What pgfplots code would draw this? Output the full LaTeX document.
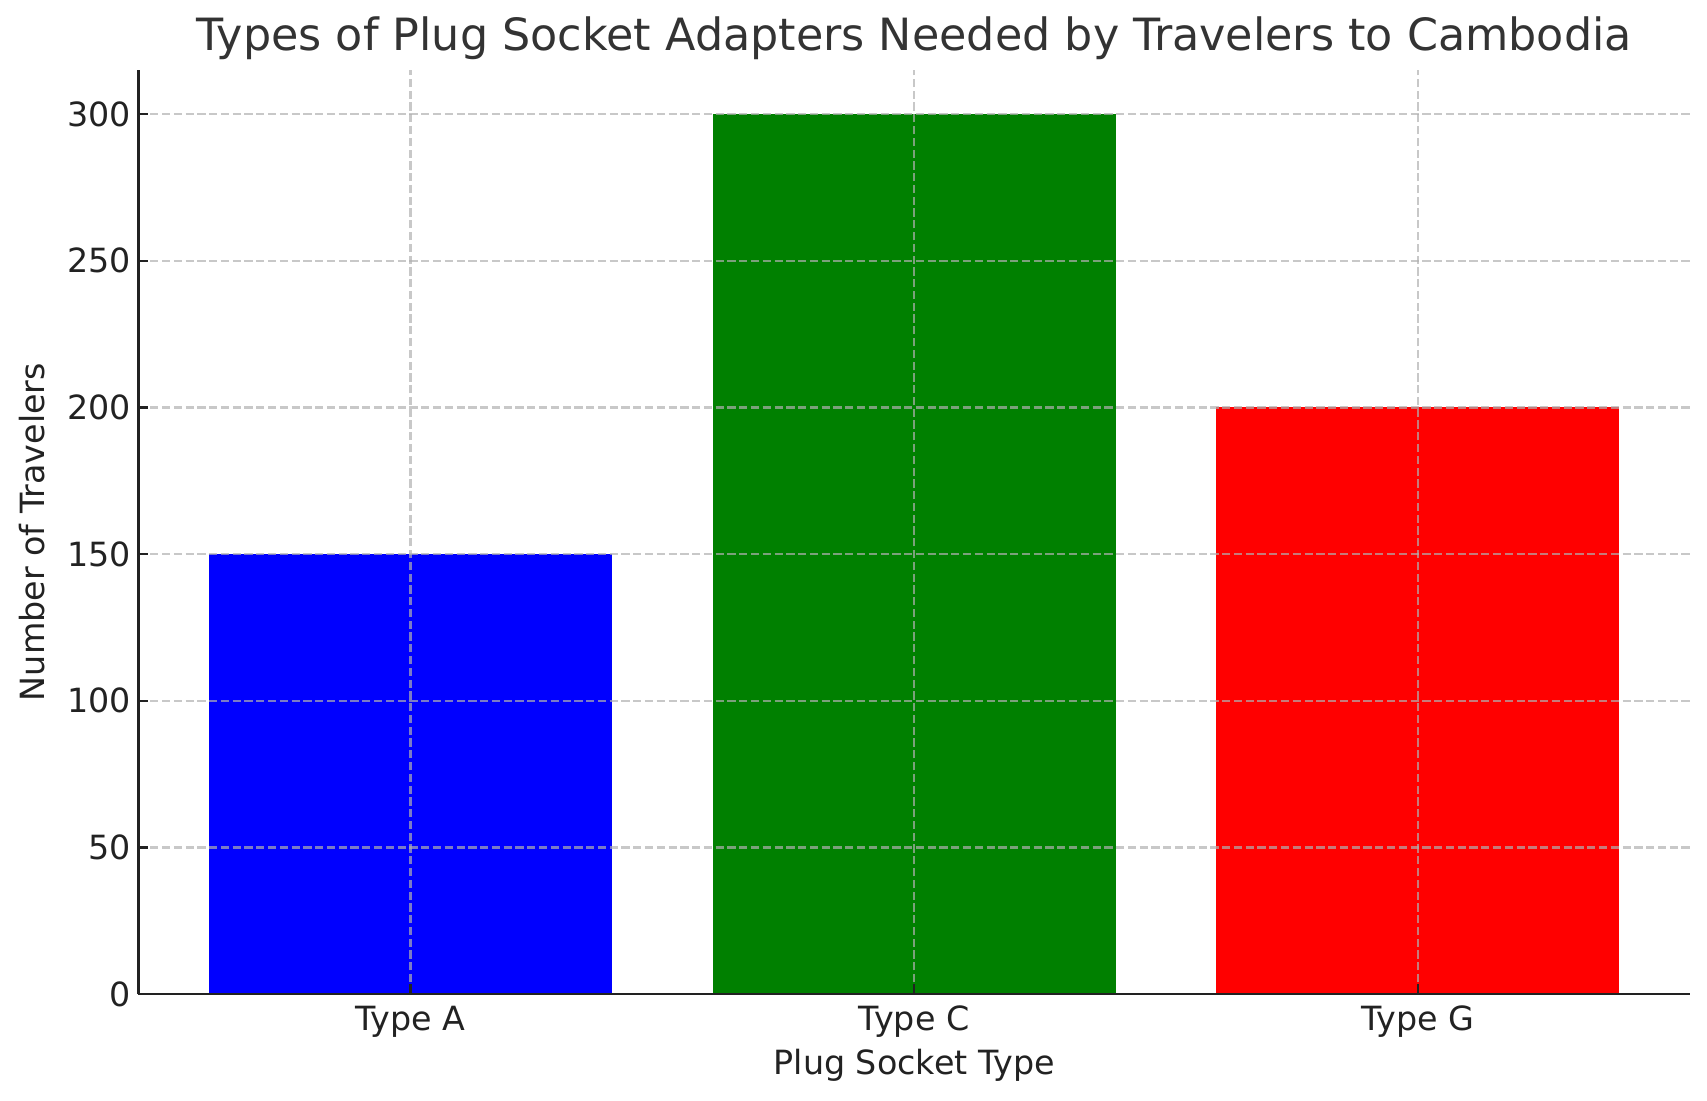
\documentclass[border=0pt]{standalone}
\usepackage{fontspec}
\setmainfont{DejaVu Sans}
\usepackage{pgfplots}
\pgfplotsset{compat=1.18}
\definecolor{txt}{HTML}{222222}
\definecolor{ttl}{HTML}{333333}
\definecolor{gridc}{HTML}{B0B0B0}
\begin{document}
\begin{tikzpicture}
\begin{axis}[
  name=ax,
  at={(0,0)}, anchor=south west,
  scale only axis,
  width=558.5bp, height=332.6bp,
  xmin=-0.54, xmax=2.54, ymin=0, ymax=315,
  axis lines*=left,
  axis line style={-, line width=1bp, color=txt},
  axis on top,
  xtick align=inside,
  ytick align=inside,
  major tick length=3.5bp,
  tick style={line width=0.8bp, color=txt},
  xtick={0,1,2},
  xticklabels={Type A, Type C, Type G},
  ytick={0,50,100,150,200,250,300},
  /pgf/number format/assume math mode=true,
  ticklabel style={font=\fontsize{12bp}{14bp}\selectfont, color=txt},
  xticklabel style={anchor=base, inner sep=0pt, yshift=-12.96bp},
  yticklabel style={anchor=east, inner sep=0pt, xshift=-2.5bp},
  grid=major,
  major grid style={line width=0.8bp, color=gridc, draw opacity=0.7, dash pattern=on 2.96bp off 1.28bp},
  title={Types of Plug Socket Adapters Needed by Travelers to Cambodia},
  title style={at={(axis description cs:0.5,1)}, anchor=base, yshift=1bp, inner sep=0pt, font=\fontsize{16bp}{19bp}\selectfont, color=ttl},
  xlabel={Plug Socket Type},
  xlabel style={at={(axis description cs:0.5,-0.0866)}, anchor=base, inner sep=0pt, font=\fontsize{12bp}{14bp}\selectfont, color=txt},
  ylabel={Number of Travelers},
  ylabel style={at={(axis description cs:-0.0603,0.5)}, anchor=base, inner sep=0pt, font=\fontsize{12bp}{14bp}\selectfont, color=txt},
]
\addplot[ybar, bar width=0.8, bar shift=0pt, draw=none, fill={rgb,255:red,0;green,0;blue,255}] coordinates {(0,150)};
\addplot[ybar, bar width=0.8, bar shift=0pt, draw=none, fill={rgb,255:red,0;green,128;blue,0}] coordinates {(1,300)};
\addplot[ybar, bar width=0.8, bar shift=0pt, draw=none, fill={rgb,255:red,255;green,0;blue,0}] coordinates {(2,200)};
\end{axis}
\path (ax.south west) ++(-49.86bp,-38.5bp) coordinate (bl);
\pgfresetboundingbox
\path[use as bounding box] (bl) rectangle ++(614.52bp,396.36bp);
\end{tikzpicture}
\end{document}
